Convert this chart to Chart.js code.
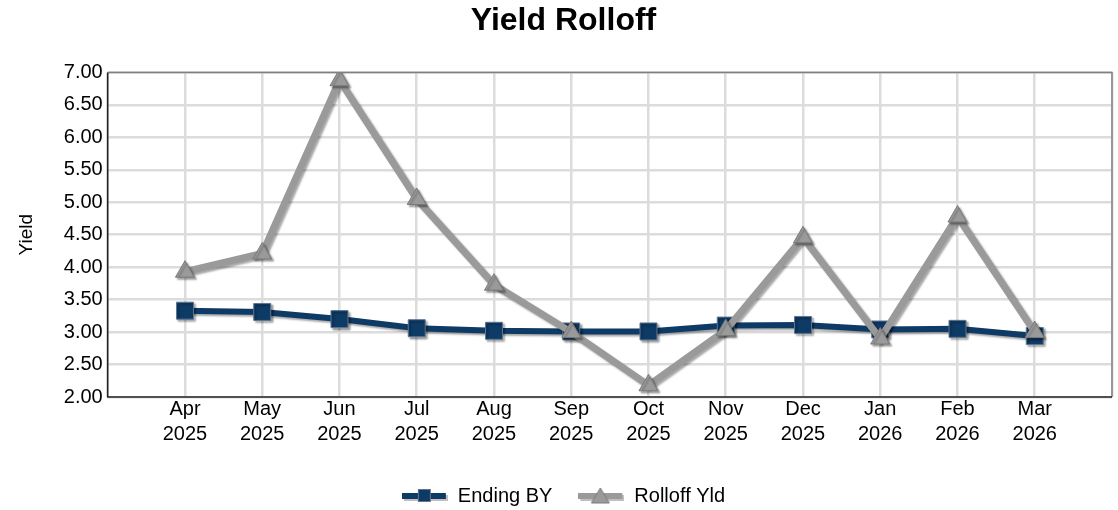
<!DOCTYPE html>
<html>
<head>
<meta charset="utf-8">
<script src="https://cdn.jsdelivr.net/npm/chart.js@4.4.1/dist/chart.umd.min.js"></script>
<style>
  html, body { margin: 0; padding: 0; background: #fff; }
  #wrap { width: 1118px; height: 510px; }
</style>
</head>
<body>
<div id="wrap"><canvas id="myChart" width="1118" height="510"></canvas></div>
<script>
// data
const months = ['Apr', 'May', 'Jun', 'Jul', 'Aug', 'Sep', 'Oct', 'Nov', 'Dec', 'Jan', 'Feb', 'Mar'];
const years = ['2025', '2025', '2025', '2025', '2025', '2025', '2025', '2025', '2025', '2026', '2026', '2026'];
const endingBY = [3.33, 3.31, 3.20, 3.06, 3.02, 3.01, 3.01, 3.10, 3.11, 3.04, 3.05, 2.94];
const rolloffYld = [3.93, 4.21, 6.88, 5.05, 3.73, 3.00, 2.18, 3.03, 4.46, 2.90, 4.78, 3.00];

const navy = '#0e3a66';
const gray = '#9a9a9a';

// small legend pictures: line with the marker in the middle
function legendIcon(color, markerFill, markerEdge, shape) {
    const c = document.createElement('canvas');
    c.width = 46; c.height = 18;
    const g = c.getContext('2d');
    g.fillStyle = 'rgba(0,0,0,0.25)';
    g.fillRect(2, 8, 44, 6);
    g.fillStyle = color;
    g.fillRect(0, 6, 44, 6);
    g.fillStyle = markerFill;
    g.strokeStyle = markerEdge;
    g.lineWidth = 1;
    if (shape === 'rect') {
        g.fillRect(16, 2, 13, 13);
        g.strokeRect(16.5, 2.5, 12, 12);
    } else {
        g.beginPath();
        g.moveTo(22, 1); g.lineTo(31, 16); g.lineTo(13, 16); g.closePath();
        g.fill(); g.stroke();
    }
    return c;
}

const shadowPlugin = {
    id: 'shadow',
    beforeDatasetDraw(chart) {
        const ctx = chart.ctx;
        ctx.save();
        ctx.shadowColor = 'rgba(0,0,0,0.35)';
        ctx.shadowOffsetX = 2;
        ctx.shadowOffsetY = 2;
        ctx.shadowBlur = 2;
    },
    afterDatasetDraw(chart) {
        chart.ctx.restore();
    }
};

const framePlugin = {
    id: 'frame',
    afterDatasetsDraw(chart) {
        const {ctx, chartArea: a} = chart;
        ctx.save();
        ctx.strokeStyle = '#808080';
        ctx.lineWidth = 1.5;
        ctx.beginPath();
        ctx.moveTo(a.left, a.top); ctx.lineTo(a.right, a.top); ctx.lineTo(a.right, a.bottom);
        ctx.stroke();
        ctx.strokeStyle = '#222';
        ctx.beginPath();
        ctx.moveTo(a.left, a.top); ctx.lineTo(a.left, a.bottom); ctx.lineTo(a.right, a.bottom);
        ctx.stroke();
        ctx.restore();
    }
};

const ctx = document.getElementById('myChart').getContext('2d');
new Chart(ctx, {
    type: 'line',
    data: {
        datasets: [{
            label: 'Ending BY',
            data: endingBY.map((v, i) => ({x: i, y: v})),
            borderColor: navy,
            borderWidth: 6,
            pointStyle: 'rect',
            pointRadius: 12,
            pointBackgroundColor: navy,
            pointBorderColor: '#5f7590',
            pointBorderWidth: 1,
            tension: 0,
            order: 1
        }, {
            label: 'Rolloff Yld',
            data: rolloffYld.map((v, i) => ({x: i, y: v})),
            borderColor: gray,
            borderWidth: 7,
            pointStyle: 'triangle',
            pointRadius: 11,
            pointBackgroundColor: gray,
            pointBorderColor: '#7a7a7a',
            pointBorderWidth: 1,
            tension: 0,
            order: 0
        }]
    },
    options: {
        responsive: false,
        animation: false,
        layout: {autoPadding: false, padding: {left: 15, right: 6, top: 0, bottom: -6}},
        plugins: {
            title: {
                display: true,
                text: 'Yield Rolloff',
                color: '#000',
                font: {family: 'Liberation Sans', size: 32, weight: 'bold'},
                padding: {top: 2, bottom: 32}
            },
            legend: {
                position: 'bottom',
                labels: {
                    color: '#000',
                    font: {family: 'Liberation Sans', size: 20},
                    usePointStyle: true,
                    pointStyleWidth: 46,
                    boxHeight: 18,
                    padding: 26,
                    sort: (a, b) => a.datasetIndex - b.datasetIndex,
                    generateLabels(chart) {
                        return [
                            {text: 'Ending BY', datasetIndex: 0, pointStyle: legendIcon(navy, navy, '#5f7590', 'rect'), fontColor: '#000', lineWidth: 0, strokeStyle: 'transparent'},
                            {text: 'Rolloff Yld', datasetIndex: 1, pointStyle: legendIcon(gray, gray, '#7a7a7a', 'tri'), fontColor: '#000', lineWidth: 0, strokeStyle: 'transparent'}
                        ];
                    }
                }
            },
            tooltip: {enabled: false}
        },
        scales: {
            x: {
                type: 'linear',
                min: -1,
                max: 12,
                afterFit: (scale) => {
                    scale.height += 13;
                    scale.paddingLeft = 0;
                    scale.paddingRight = 0;
                },
                ticks: {
                    stepSize: 1,
                    autoSkip: false,
                    maxRotation: 0,
                    color: '#000',
                    font: {family: 'Liberation Sans', size: 20, lineHeight: 1.25},
                    padding: 0,
                    callback: (v) => (v >= 0 && v < months.length) ? [months[v], years[v]] : ''
                },
                grid: {color: '#dcdcdc', lineWidth: 2.5, drawTicks: false},
                border: {display: false}
            },
            y: {
                min: 2,
                max: 7,
                ticks: {
                    stepSize: 0.5,
                    color: '#000',
                    font: {family: 'Liberation Sans', size: 20},
                    padding: 5,
                    callback: (v) => v.toFixed(2)
                },
                title: {
                    display: true,
                    text: 'Yield',
                    color: '#000',
                    font: {family: 'Liberation Sans', size: 19},
                    padding: {top: 0, bottom: 21}
                },
                grid: {color: '#dcdcdc', lineWidth: 2.5, drawTicks: false},
                border: {display: false}
            }
        }
    },
    plugins: [shadowPlugin, framePlugin]
});
</script>
</body>
</html>
